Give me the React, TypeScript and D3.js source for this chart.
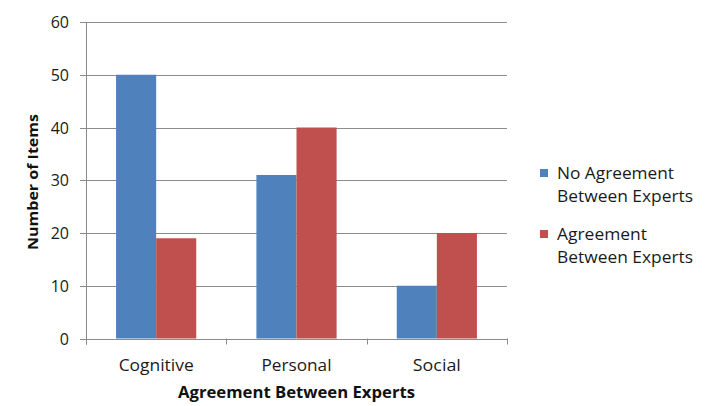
import React from "react";
import * as d3 from "d3";

const categories = ["Cognitive", "Personal", "Social"];
const seriesNames = ["No Agreement Between Experts", "Agreement Between Experts"];
const noAgreement = [50, 31, 10];
const agreement = [19, 40, 20];
const yTicks = [0, 10, 20, 30, 40, 50, 60];
const colors = ["#4F81BD", "#C0504D"];
const legendLines = [["No Agreement", "Between Experts"], ["Agreement", "Between Experts"]];
const catWidths = [75, 70, 48];
const legendWidths = [[117, 136], [90, 136]];

export default function App() {
  const W = 709, H = 406;
  const left = 86, right = 507, top = 22, bottom = 338.5;
  const x = d3.scaleBand().domain(categories).range([left, right]).paddingInner(0).paddingOuter(0);
  const y = d3.scaleLinear().domain([0, 60]).range([bottom, top]);
  const series = [noAgreement, agreement];
  const font = "'Open Sans', sans-serif";
  const bw = x.bandwidth();
  const barW = bw * 40 / 140;
  const offset = (bw - 2 * barW) / 2;
  const txt = "#1a1a1a";
  return (
    <svg width={W} height={H} style={{ position: "absolute", left: 0, top: 0 }} fontFamily={font}>
      <rect width={W} height={H} fill="#fff" />
      {yTicks.map((t) => (
        <g key={t}>
          <line x1={left - 6} x2={right} y1={Math.round(y(t)) + 0.5} y2={Math.round(y(t)) + 0.5} stroke="#8c8c8c" strokeWidth={1} />
          <text x={69} y={y(t) + 6} textAnchor="end" fontSize={16} fill={txt}>{t}</text>
        </g>
      ))}
      <line x1={left + 0.5} x2={left + 0.5} y1={top} y2={bottom + 6} stroke="#8c8c8c" />
      {categories.concat([""]).map((c, i) => {
        const xx = left + i * bw;
        return <line key={i} x1={Math.round(xx) + 0.5} x2={Math.round(xx) + 0.5} y1={bottom} y2={bottom + 6} stroke="#8c8c8c" />;
      })}
      {categories.map((c, i) => (
        <g key={c}>
          {series.map((s, j) => (
            <rect key={j} x={(x(c) as number) + offset + j * barW} y={y(s[i])} width={barW} height={bottom - y(s[i])} fill={colors[j]} />
          ))}
          <text x={(x(c) as number) + bw / 2 - catWidths[i] / 2} y={371} textLength={catWidths[i]} lengthAdjust="spacingAndGlyphs" fontSize={16} fill={txt}>{c}</text>
        </g>
      ))}
      <text x={178} y={398} textLength={237} lengthAdjust="spacingAndGlyphs" fontSize={16} fontWeight="bold" fill="#111">Agreement Between Experts</text>
      <text transform={`translate(38,250) rotate(-90)`} textLength={136} lengthAdjust="spacingAndGlyphs" fontSize={15} fontWeight="bold" fill="#111">Number of Items</text>
      {seriesNames.map((n, j) => {
        const b0 = 179 + j * 61;
        return (
          <g key={n}>
            <rect x={540} y={b0 - 10} width={8} height={8} fill={colors[j]} />
            <text x={557} y={b0} textLength={legendWidths[j][0]} lengthAdjust="spacingAndGlyphs" fontSize={16} fill={txt}>{legendLines[j][0]}</text>
            <text x={557} y={b0 + 23} textLength={legendWidths[j][1]} lengthAdjust="spacingAndGlyphs" fontSize={16} fill={txt}>{legendLines[j][1]}</text>
          </g>
        );
      })}
    </svg>
  );
}
